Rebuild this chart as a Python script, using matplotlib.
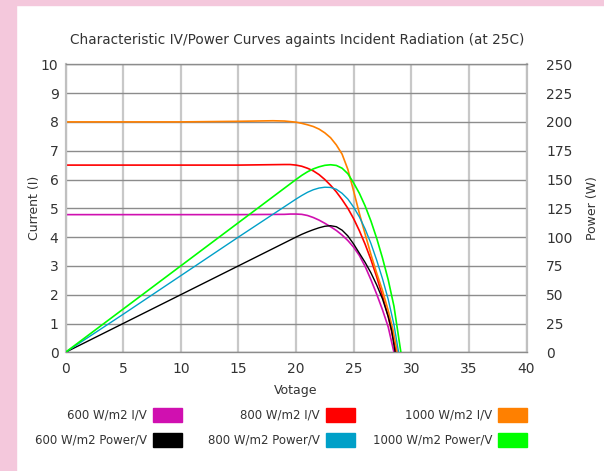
import matplotlib
matplotlib.use("Agg")
from matplotlib import pyplot as plt
from matplotlib.patches import Rectangle

# IV curves (current in A) against voltage
v_iv_600 = [0, 5, 10, 15, 19, 19.5, 20, 20.5, 21, 21.5, 22, 22.5, 23, 23.5, 24, 24.5, 25,
            25.5, 26, 26.5, 27, 27.5, 28, 28.5]
i_iv_600 = [4.78, 4.78, 4.78, 4.78, 4.79, 4.8, 4.8, 4.79, 4.75, 4.68, 4.59, 4.48, 4.36,
            4.23, 4.07, 3.88, 3.65, 3.36, 2.98, 2.52, 2.02, 1.48, 0.88, 0]

v_iv_800 = [0, 5, 10, 15, 19, 19.5, 20, 20.5, 21, 21.5, 22, 22.5, 23, 23.5, 24, 24.5, 25,
            25.5, 26, 26.5, 27, 27.5, 28, 28.7]
i_iv_800 = [6.5, 6.5, 6.5, 6.5, 6.52, 6.52, 6.5, 6.46, 6.39, 6.3, 6.17, 6.0, 5.8, 5.57,
            5.3, 5.0, 4.64, 4.22, 3.75, 3.22, 2.62, 1.96, 1.25, 0]

v_iv_1000 = [0, 5, 10, 15, 18, 19, 20, 20.5, 21, 21.5, 22, 22.5, 23, 23.5, 24, 24.5, 25,
             25.5, 26, 26.5, 27, 27.5, 28, 28.4, 28.8]
i_iv_1000 = [8.0, 8.0, 8.0, 8.02, 8.04, 8.03, 7.99, 7.95, 7.9, 7.84, 7.75, 7.62, 7.45,
             7.2, 6.88, 6.35, 5.6, 4.82, 4.1, 3.4, 2.75, 2.15, 1.45, 0.8, 0]

# power curves (W) against voltage
v_pw_600 = [0, 5, 10, 15, 20, 20.5, 21, 21.5, 22, 22.5, 23, 23.5, 24, 24.5, 25, 25.5, 26,
            26.5, 27, 27.5, 28, 28.3, 28.6]
p_pw_600 = [0, 25, 50, 75, 100, 102.4, 104.5, 106.4, 108.1, 109.4, 109.9, 109, 106, 101,
            94, 86, 78, 69, 58.5, 46.5, 31, 19, 0]

v_pw_800 = [0, 5, 10, 15, 19, 20, 20.5, 21, 21.5, 22, 22.5, 23, 23.5, 24, 24.5, 25, 25.5,
            26, 26.5, 27, 27.5, 28, 28.5, 28.9]
p_pw_800 = [0, 33, 66.5, 100, 126.4, 133, 136.1, 138.9, 141.1, 142.6, 143.3, 143.1,
            141.5, 138, 133, 126, 117.5, 107, 94.5, 80, 64, 46, 24, 0]

v_pw_1000 = [0, 5, 10, 15, 20, 20.5, 21, 21.5, 22, 22.5, 23, 23.5, 24, 24.5, 25, 25.5,
             26, 26.5, 27, 27.5, 28, 28.5, 29.1]
p_pw_1000 = [0, 37.5, 75, 112.5, 150, 153.6, 156.7, 159.2, 161, 162.3, 162.8, 162.2,
             159.8, 155, 147, 138, 127, 114, 99, 82, 63, 40, 0]

labels = ["600 W/m2 I/V", "600 W/m2 Power/V", "800 W/m2 I/V",
          "800 W/m2 Power/V", "1000 W/m2 I/V", "1000 W/m2 Power/V"]
colors = ["#d010b0", "#000000", "#ff0000", "#00a0c8", "#ff8000", "#00ff00"]

text_col = "#333333"
pink = "#f4c8dc"

fig = plt.figure(figsize=(6.04, 4.71), dpi=100, facecolor="white")
# pink frame strips
fig.patches.append(Rectangle((0, 0), 16 / 604, 1, transform=fig.transFigure, color=pink, zorder=-5))
fig.patches.append(Rectangle((0, 1 - 5 / 471), 1, 5 / 471, transform=fig.transFigure, color=pink, zorder=-5))

ax = fig.add_axes([65.5 / 604, 1 - 352.3 / 471, 461 / 604, 288 / 471])
ax2 = ax.twinx()

ax.plot(v_iv_600, i_iv_600, color=colors[0], lw=1.2)
ax.plot(v_iv_800, i_iv_800, color=colors[2], lw=1.2)
ax.plot(v_iv_1000, i_iv_1000, color=colors[4], lw=1.2)
ax2.plot(v_pw_600, p_pw_600, color=colors[1], lw=1.0)
ax2.plot(v_pw_800, p_pw_800, color=colors[3], lw=1.0)
ax2.plot(v_pw_1000, p_pw_1000, color=colors[5], lw=1.2)

ax.set_xlim(0, 40)
ax.set_ylim(0, 10)
ax2.set_ylim(0, 250)
ax.set_xticks(range(0, 41, 5))
ax.set_yticks(range(0, 11))
ax2.set_yticks(range(0, 251, 25))

ax.xaxis.grid(True, color="#c8c8c8", lw=1.6)
ax.yaxis.grid(True, color="#8c8c8c", lw=1.0)
ax.set_axisbelow(True)

for s in ["left", "right"]:
    ax.spines[s].set_color("#c0c0c0")
    ax.spines[s].set_linewidth(1.6)
for s in ["top", "bottom"]:
    ax.spines[s].set_color("#8c8c8c")
    ax.spines[s].set_linewidth(1.0)
for s in ax2.spines.values():
    s.set_visible(False)

ax.tick_params(axis="both", length=0, labelsize=10, labelcolor=text_col)
ax.tick_params(axis="x", pad=7)
ax.tick_params(axis="y", pad=5)
ax2.tick_params(axis="y", length=0, labelsize=10, labelcolor=text_col, pad=14)

ax.set_xlabel("Votage", fontsize=9, color=text_col, labelpad=6)
ax.set_ylabel("Current (I)", fontsize=9, color=text_col, labelpad=0)
ax2.set_ylabel("Power (W)", fontsize=9, color=text_col, labelpad=10)

fig.text(297 / 604, 1 - 40 / 471,
         "Characteristic IV/Power Curves againts Incident Radiation (at 25C)",
         ha="center", va="center", fontsize=9.8, color=text_col)

# legend: text right-aligned next to a colour swatch, three columns, two rows
sw_right = [182, 355, 527]
row_y = [415, 440]
for k, (lab, col) in enumerate(zip(labels, colors)):
    c, r = k // 2, k % 2
    x1 = sw_right[c]
    y = row_y[r]
    fig.patches.append(Rectangle(((x1 - 29) / 604, 1 - (y + 7) / 471), 29 / 604, 14 / 471,
                                 transform=fig.transFigure, color=col))
    fig.text((x1 - 35) / 604, 1 - y / 471, lab, ha="right", va="center",
             fontsize=8.5, color=text_col)

fig.savefig("out.png", dpi=100, facecolor=fig.get_facecolor())
